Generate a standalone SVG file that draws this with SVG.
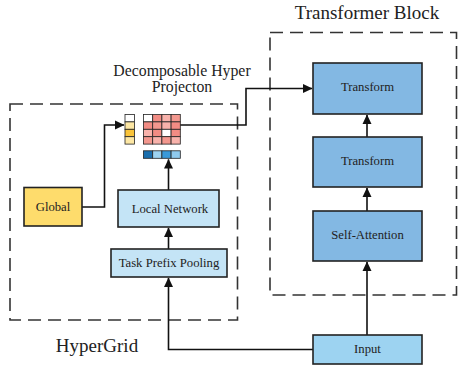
<svg xmlns="http://www.w3.org/2000/svg" width="458" height="367" viewBox="0 0 458 367">
<defs>
<marker id="ah" markerWidth="10" markerHeight="10" refX="9" refY="5" orient="auto" markerUnits="userSpaceOnUse">
<path d="M0,0.5 L9.5,5 L0,9.5 Z" fill="#111"/>
</marker>
<style>
.t{font-family:"Liberation Serif","Times New Roman",serif;fill:#222;text-anchor:middle}
.n{font-size:12.7px}
.box{stroke:#222;stroke-width:1.6}
.dash{fill:none;stroke:#333;stroke-width:1.6;stroke-dasharray:13 7}
.c{fill:none;stroke:#111;stroke-width:1.6}
.g{stroke:#222;stroke-width:0.8}
</style>
</defs>
<rect width="458" height="367" fill="#fff"/>

<g id="hypergrid-box">
<rect class="dash" x="10" y="104" width="227.5" height="216"/>
<text class="t" x="97" y="352" font-size="19">HyperGrid</text>
</g>
<g id="transformer-box">
<rect class="dash" x="270" y="32.5" width="186.5" height="262.5"/>
<text class="t" x="367" y="18.5" font-size="19">Transformer Block</text>
</g>
<g id="dhp-label">
<text class="t" x="182" y="76" font-size="15.8">Decomposable Hyper</text>
<text class="t" x="182" y="92" font-size="15.8">Projecton</text>
</g>

<g id="connectors">
<line class="c" x1="367" y1="335" x2="367" y2="262" marker-end="url(#ah)"/>
<line class="c" x1="367" y1="211" x2="367" y2="188" marker-end="url(#ah)"/>
<line class="c" x1="367" y1="137" x2="367" y2="115" marker-end="url(#ah)"/>
<path class="c" d="M313,349.5 H168.5 V278" marker-end="url(#ah)"/>
<line class="c" x1="168.5" y1="249" x2="168.5" y2="228" marker-end="url(#ah)"/>
<line class="c" x1="168.5" y1="190" x2="168.5" y2="159.5" marker-end="url(#ah)"/>
<path class="c" d="M82,207 H104.5 V125 H124" marker-end="url(#ah)"/>
<path class="c" d="M180,125 H246 V88.5 H312" marker-end="url(#ah)"/>
</g>

<g id="transform-top">
<rect class="box" x="313" y="63" width="109" height="51" fill="#83b8e3"/>
<text class="t n" x="367.5" y="91">Transform</text>
</g>
<g id="transform-mid">
<rect class="box" x="313" y="137" width="109" height="50" fill="#83b8e3"/>
<text class="t n" x="367.5" y="165">Transform</text>
</g>
<g id="self-attention">
<rect class="box" x="313" y="211" width="109" height="50" fill="#83b8e3"/>
<text class="t n" x="367.5" y="238.5">Self-Attention</text>
</g>
<g id="input">
<rect class="box" x="313" y="335" width="109" height="29" fill="#9dd3f1"/>
<text class="t n" x="367.5" y="352.5">Input</text>
</g>
<g id="task-prefix-pooling">
<rect class="box" x="111" y="249" width="116" height="28" fill="#c4e4f6"/>
<text class="t n" x="169" y="266.5">Task Prefix Pooling</text>
</g>
<g id="local-network">
<rect class="box" x="118" y="190" width="101" height="37" fill="#c4e4f6"/>
<text class="t n" x="170" y="213">Local Network</text>
</g>
<g id="global">
<rect class="box" x="24" y="187.5" width="58" height="38.5" fill="#fedc6c"/>
<text class="t n" x="53" y="210.5">Global</text>
</g>

<g id="hyper-projection">
<g class="g">
<rect x="125" y="114.5" width="9.5" height="7.4" fill="#ffffff"/>
<rect x="125" y="121.9" width="9.5" height="7.4" fill="#fde7a4"/>
<rect x="125" y="129.3" width="9.5" height="7.4" fill="#fac43a"/>
<rect x="125" y="136.7" width="9.5" height="7.4" fill="#fde7a4"/>
</g>
<g class="g">
<rect x="143.5" y="114.5" width="9.2" height="7.4" fill="#ffffff"/>
<rect x="152.7" y="114.5" width="9.2" height="7.4" fill="#f28c84"/>
<rect x="161.9" y="114.5" width="9.2" height="7.4" fill="#f8b2ab"/>
<rect x="171.1" y="114.5" width="9.2" height="7.4" fill="#f3978e"/>
<rect x="143.5" y="121.9" width="9.2" height="7.4" fill="#f28c84"/>
<rect x="152.7" y="121.9" width="9.2" height="7.4" fill="#f3978e"/>
<rect x="161.9" y="121.9" width="9.2" height="7.4" fill="#f8b2ab"/>
<rect x="171.1" y="121.9" width="9.2" height="7.4" fill="#f28c84"/>
<rect x="143.5" y="129.3" width="9.2" height="7.4" fill="#f8b2ab"/>
<rect x="152.7" y="129.3" width="9.2" height="7.4" fill="#f28c84"/>
<rect x="161.9" y="129.3" width="9.2" height="7.4" fill="#ffffff"/>
<rect x="171.1" y="129.3" width="9.2" height="7.4" fill="#f28c84"/>
<rect x="143.5" y="136.7" width="9.2" height="7.4" fill="#f3978e"/>
<rect x="152.7" y="136.7" width="9.2" height="7.4" fill="#f8b2ab"/>
<rect x="161.9" y="136.7" width="9.2" height="7.4" fill="#f3978e"/>
<rect x="171.1" y="136.7" width="9.2" height="7.4" fill="#f8b2ab"/>
</g>
<g class="g">
<rect x="143.5" y="150.8" width="9.2" height="7.5" fill="#1a6fae"/>
<rect x="152.7" y="150.8" width="9.2" height="7.5" fill="#9dd3f1"/>
<rect x="161.9" y="150.8" width="9.2" height="7.5" fill="#3a9ad9"/>
<rect x="171.1" y="150.8" width="9.2" height="7.5" fill="#8fcaee"/>
</g>
</g>
</svg>
